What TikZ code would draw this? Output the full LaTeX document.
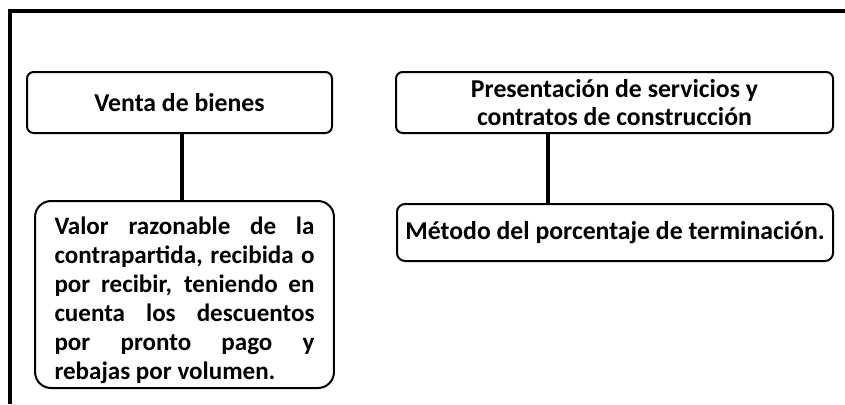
\documentclass[tikz,border=0pt]{standalone}
\usepackage{fontspec}
\setmainfont{Carlito}
\begin{document}
\begin{tikzpicture}[x=0.75pt,y=-0.75pt]
\tikzset{
  headbox/.style={draw,line width=1.5pt,rounded corners=5pt,align=center,
    font=\bfseries\fontsize{19.3}{20.5}\selectfont,minimum height=45.75pt,inner sep=2pt},
  bodybox/.style={draw,line width=1.5pt,align=justify,
    font=\bfseries\fontsize{18.8}{21.75}\selectfont,inner sep=2pt},
  link/.style={line width=3pt},
  frame/.style={line width=3pt}
}
\useasboundingbox (0,0) rectangle (845,404);

% Outer frame (cut at the right and bottom)
\draw[frame] (10,404) -- (10,11) -- (845,11);

% Top row
\node[headbox,minimum width=228.75pt] (venta) at (179.5,102.5) {Venta de bienes};
\node[headbox,minimum width=327.75pt] (servicios) at (614.5,102.5)
  {Presentación de servicios y\\contratos de construcción};

% Bottom row
\node[bodybox,rounded corners=12pt,text width=195pt,inner xsep=14.6pt,minimum height=140.25pt]
  (valor) at (184.5,294.5)
  {\rule{0pt}{22pt}Valor razonable de la\linebreak
   contrapartida, recibida o\linebreak
   por recibir, teniendo en\linebreak
   cuenta los descuentos\linebreak
   por pronto pago y\linebreak
   rebajas por volumen.};
\node[bodybox,rounded corners=6pt,align=center,minimum width=327pt,minimum height=42.75pt,
  font=\bfseries\fontsize{19.3}{21.75}\selectfont]
  (metodo) at (615,232.5) {Método del porcentaje de terminación.};

% Connectors
\draw[link] (182,0 |- venta.south) -- (182,0 |- valor.north);
\draw[link] (548,0 |- servicios.south) -- (548,0 |- metodo.north);

\end{tikzpicture}
\end{document}
